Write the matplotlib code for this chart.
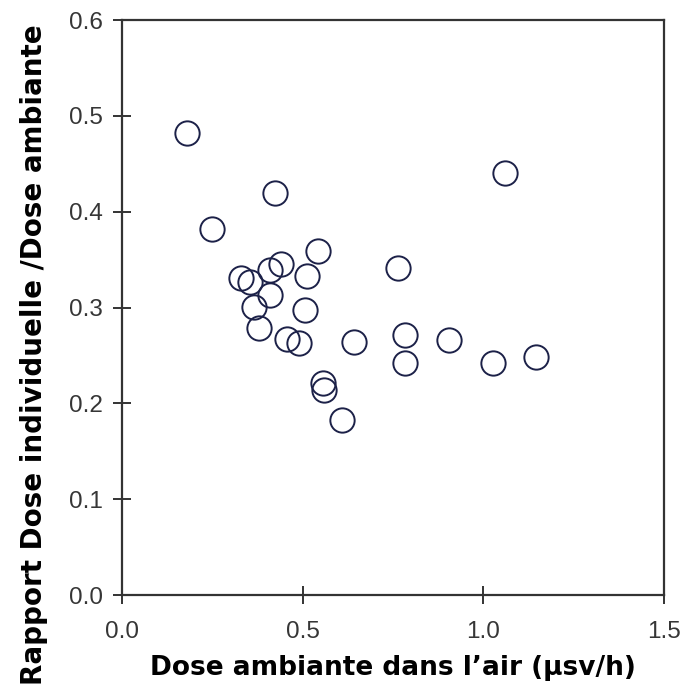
import matplotlib
matplotlib.use("Agg")
import matplotlib.pyplot as plt

# Ambient dose rate in air (µSv/h) and ratio individual dose / ambient dose
ambient_dose = [0.179, 0.423, 0.249, 0.542, 1.060, 0.764, 0.329, 0.354, 0.410,
                0.440, 0.512, 0.410, 0.365, 0.507, 0.379, 0.457, 0.490, 0.642,
                0.783, 0.783, 0.905, 1.027, 1.146, 0.556, 0.559, 0.609]
dose_ratio = [0.482, 0.419, 0.382, 0.359, 0.440, 0.341, 0.331, 0.327, 0.339,
              0.345, 0.333, 0.313, 0.301, 0.297, 0.279, 0.267, 0.263, 0.264,
              0.271, 0.242, 0.266, 0.242, 0.248, 0.221, 0.214, 0.183]

x_ticks = [0.0, 0.5, 1.0, 1.5]
y_ticks = [0.0, 0.1, 0.2, 0.3, 0.4, 0.5, 0.6]

fig = plt.figure(figsize=(6.88, 6.93), dpi=100)
ax = fig.add_axes([0.1773, 0.1414, 0.7878, 0.8297])

ax.plot(ambient_dose, dose_ratio, linestyle="none", marker="o", markersize=17.5,
        markerfacecolor="none", markeredgecolor="#1c2148", markeredgewidth=1.4)

ax.set_xlim(0, 1.5)
ax.set_ylim(0, 0.6)
ax.set_xticks(x_ticks)
ax.set_yticks(y_ticks)
ax.set_xticklabels([f"{v:.1f}" for v in x_ticks])
ax.set_yticklabels([f"{v:.1f}" for v in y_ticks])

for side in ax.spines.values():
    side.set_linewidth(1.6)
    side.set_color("#333333")

ax.tick_params(direction="inout", length=13, width=1.4, color="#333333",
               labelsize=17.5, labelcolor="#363636")
ax.tick_params(axis="x", pad=12)
ax.tick_params(axis="y", pad=7)
for lbl in ax.get_xticklabels() + ax.get_yticklabels():
    lbl.set_family("Liberation Sans")

ax.set_xlabel("Dose ambiante dans l\u2019air (\u00b5sv/h)", fontsize=19,
              fontweight="bold", family="DejaVu Sans", labelpad=9)
ax.set_ylabel("Rapport Dose individuelle /Dose ambiante", fontsize=20,
              fontweight="bold", family="DejaVu Sans",
              va="center", ha="center")
ax.yaxis.set_label_coords(-0.162, 0.418)

fig.savefig("out.png", dpi=100)
